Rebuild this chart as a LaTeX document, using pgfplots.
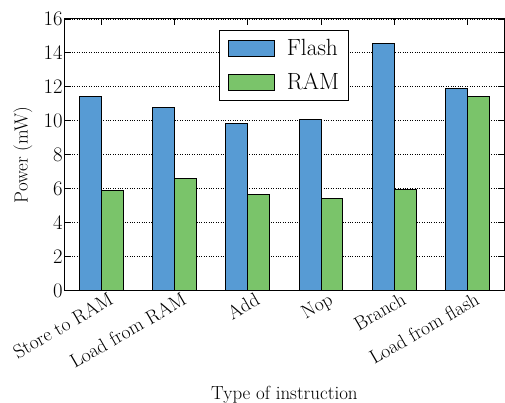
\documentclass[border=0pt]{standalone}
\usepackage{pgfplots}
\pgfplotsset{compat=1.18}

\definecolor{flashblue}{RGB}{87,155,212}
\definecolor{ramgreen}{RGB}{122,196,106}

\begin{document}
\begin{tikzpicture}
\useasboundingbox (-65pt,-112pt) rectangle (441pt,291pt);
\begin{axis}[
  scale only axis,
  width=440pt, height=272pt,
  at={(0pt,0pt)}, anchor=south west,
  xmin=-0.5, xmax=5.5,
  ymin=0, ymax=16,
  ytick={0,2,...,16},
  xtick={0,1,2,3,4,5},
  xticklabels={Store to RAM,Load from RAM,Add,Nop,Branch,Load from flash},
  tick align=inside,
  major tick length=6pt,
  tick style={black, line width=0.8pt},
  axis line style={black, line width=1pt},
  ymajorgrids,
  grid style={black, dotted, line width=0.8pt},
  ticklabel style={font=\fontsize{19.5}{23}\selectfont},
  xticklabel style={rotate=30, anchor=north east, xshift=6pt, yshift=-3pt, inner sep=1pt},
  yticklabel style={inner sep=2pt},
  xlabel={Type of instruction},
  ylabel={Power (mW)},
  every axis x label/.style={at={(axis description cs:0.5,0)}, anchor=north, yshift=-92pt,
    font=\fontsize{19}{23}\selectfont},
  every axis y label/.style={at={(axis description cs:0,0.5)}, rotate=90, anchor=south, yshift=29pt,
    font=\fontsize{19}{23}\selectfont},
  bar width=0.3,
  legend style={
    at={(0.5,0.96)}, anchor=north,
    draw=black, line width=1pt,
    font=\fontsize{23.5}{27}\selectfont,
    inner xsep=8pt, inner ysep=7pt,
    row sep=12pt,
    cells={anchor=west},
  },
  legend image code/.code={%
    \draw[#1, line width=1pt] (0pt,-8pt) rectangle (46pt,8pt);
  },
  legend cell align=left,
]
\addplot[ybar, bar shift=-0.15, fill=flashblue, draw=black, line width=1pt]
  coordinates {(0,11.45) (1,10.78) (2,9.82) (3,10.06) (4,14.57) (5,11.9)};
\addplot[ybar, bar shift=0.15, fill=ramgreen, draw=black, line width=1pt]
  coordinates {(0,5.86) (1,6.61) (2,5.63) (3,5.41) (4,5.94) (5,11.45)};
\legend{\hspace*{10pt}Flash,\hspace*{10pt}RAM}
\end{axis}
\end{tikzpicture}
\end{document}
